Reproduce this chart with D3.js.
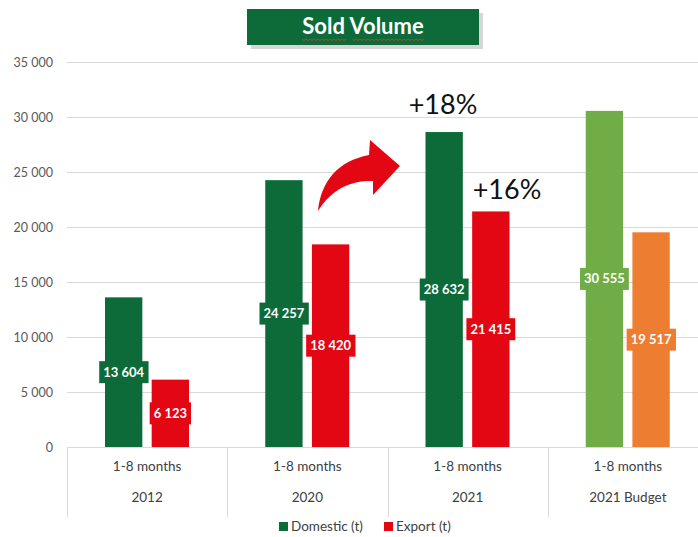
<!DOCTYPE html>
<html>
<head>
<meta charset="utf-8">
<script src="https://cdn.jsdelivr.net/npm/d3@7"></script>
<style>
body { margin: 0; background: #fff; }
svg { display: block; font-family: Lato, "Open Sans", sans-serif; }
</style>
</head>
<body>
<script>
// chart data
var periods = ["1-8 months", "1-8 months", "1-8 months", "1-8 months"]
var years = ["2012", "2020", "2021", "2021 Budget"]
var domestic = [13604, 24257, 28632, 30555]
var exported = [6123, 18420, 21415, 19517]
var series = ["Domestic (t)", "Export (t)"]
var yTicks = [0, 5000, 10000, 15000, 20000, 25000, 30000, 35000]
var growth = ["+18%", "+16%"]

var width = 698, height = 537
var svg = d3.select("body").append("svg").attr("width", width).attr("height", height)

var x = d3.scaleBand().domain(years).range([67, 708])
var sub = d3.scaleBand().domain(series).range([38, 122]).paddingInner(0.2)
var y = d3.scaleLinear().domain([0, 35000]).range([447, 62])

var fmt = function(v) { return d3.format(",")(v).replace(/,/g, " ") }

// gridlines + y labels
svg.append("g").selectAll("line").data(yTicks).enter().append("line")
    .attr("x1", 67).attr("x2", width).attr("y1", d => y(d) + 0.5).attr("y2", d => y(d) + 0.5)
    .attr("stroke", "#d9d9d9").attr("stroke-width", 1)
svg.append("g").selectAll("text").data(yTicks).enter().append("text")
    .attr("x", 53).attr("y", d => y(d) + 4.5).attr("text-anchor", "end")
    .attr("font-size", 12.5).attr("fill", "#595959").text(d => fmt(d))

// category separators
svg.append("g").selectAll("line").data(years).enter().append("line")
    .attr("x1", d => Math.round(x(d)) + 0.5).attr("x2", d => Math.round(x(d)) + 0.5)
    .attr("y1", 447).attr("y2", 517).attr("stroke", "#d9d9d9")

svg.append("g").selectAll("text").data(years).enter().append("text")
    .attr("x", d => x(d) + x.bandwidth() / 2).attr("y", 471).attr("text-anchor", "middle")
    .attr("font-size", 13.5).attr("fill", "#404040").text((d, i) => periods[i])
svg.append("g").selectAll("text").data(years).enter().append("text")
    .attr("x", d => x(d) + x.bandwidth() / 2).attr("y", 502).attr("text-anchor", "middle")
    .attr("font-size", 13.5).attr("fill", "#404040").text(d => d)

// bars
var rows = []
years.forEach(function(yr, i) {
    var budget = i == 3
    rows.push({ year: yr, s: series[0], v: domestic[i], color: budget ? "#70ad47" : "#0c6b38" })
    rows.push({ year: yr, s: series[1], v: exported[i], color: budget ? "#ed7d31" : "#e30613" })
})

svg.append("g").selectAll("rect").data(rows).enter().append("rect")
    .attr("x", d => x(d.year) + sub(d.s)).attr("width", sub.bandwidth())
    .attr("y", d => y(d.v)).attr("height", d => y(0) - y(d.v))
    .attr("fill", d => d.color)

// data labels in boxes, centred on the bar middle
var lab = svg.append("g").selectAll("g").data(rows).enter().append("g")
    .attr("transform", d => "translate(" + (x(d.year) + sub(d.s) + sub.bandwidth() / 2) + "," + y(d.v / 2) + ")")
lab.append("rect").attr("fill", d => d.color)
lab.append("text").attr("text-anchor", "middle").attr("y", 4.5)
    .attr("font-size", 13).attr("font-weight", "bold").attr("fill", "#fff").text(d => fmt(d.v))
lab.each(function() {
    var g = d3.select(this)
    var bb = g.select("text").node().getBBox()
    g.select("rect").attr("x", bb.x - 4).attr("width", bb.width + 8).attr("y", -11).attr("height", 22)
})

// growth notes
svg.append("text").attr("x", 443).attr("y", 114).attr("text-anchor", "middle")
    .attr("font-size", 27).attr("fill", "#111").text(growth[0])
svg.append("text").attr("x", 507).attr("y", 199).attr("text-anchor", "middle")
    .attr("font-size", 27).attr("fill", "#111").text(growth[1])

// curved arrow
svg.append("path")
    .attr("d", "M318,211 C321,181 338,161 369,155 L370,140 L400,166 L373,195 L373,181 C350,180 331,190 318,211 Z")
    .attr("fill", "#e30613")

// title box
var t = svg.append("g")
t.append("rect").attr("x", 251).attr("y", 13).attr("width", 232).attr("height", 36).attr("fill", "#bbb").attr("opacity", 0.6)
t.append("rect").attr("x", 247).attr("y", 9).attr("width", 232).attr("height", 36).attr("fill", "#0c6b38")
t.append("text").attr("x", 363).attr("y", 34).attr("text-anchor", "middle")
    .attr("font-size", 22).attr("font-weight", "bold").attr("fill", "#fff").text("Sold Volume")
// spellcheck squiggle under the words
var squig = function(x0, x1) {
    var p = "M" + x0 + ",39"
    for (var xx = x0 + 2, k = 0; xx <= x1; xx += 2, k++) p += " L" + xx + "," + (k % 2 ? 39 : 40.5)
    return p
}
t.append("path").attr("d", squig(302, 346) + " " + squig(352, 424)).attr("stroke", "#e33").attr("fill", "none").attr("stroke-width", 0.8)

// legend
var leg = svg.append("g").attr("transform", "translate(279,522)")
leg.append("rect").attr("width", 9).attr("height", 9).attr("fill", "#0c6b38")
leg.append("text").attr("x", 12).attr("y", 9).attr("font-size", 13.5).attr("fill", "#404040").text(series[0])
leg.append("rect").attr("x", 105).attr("width", 9).attr("height", 9).attr("fill", "#e30613")
leg.append("text").attr("x", 117).attr("y", 9).attr("font-size", 13.5).attr("fill", "#404040").text(series[1])
</script>
</body>
</html>
